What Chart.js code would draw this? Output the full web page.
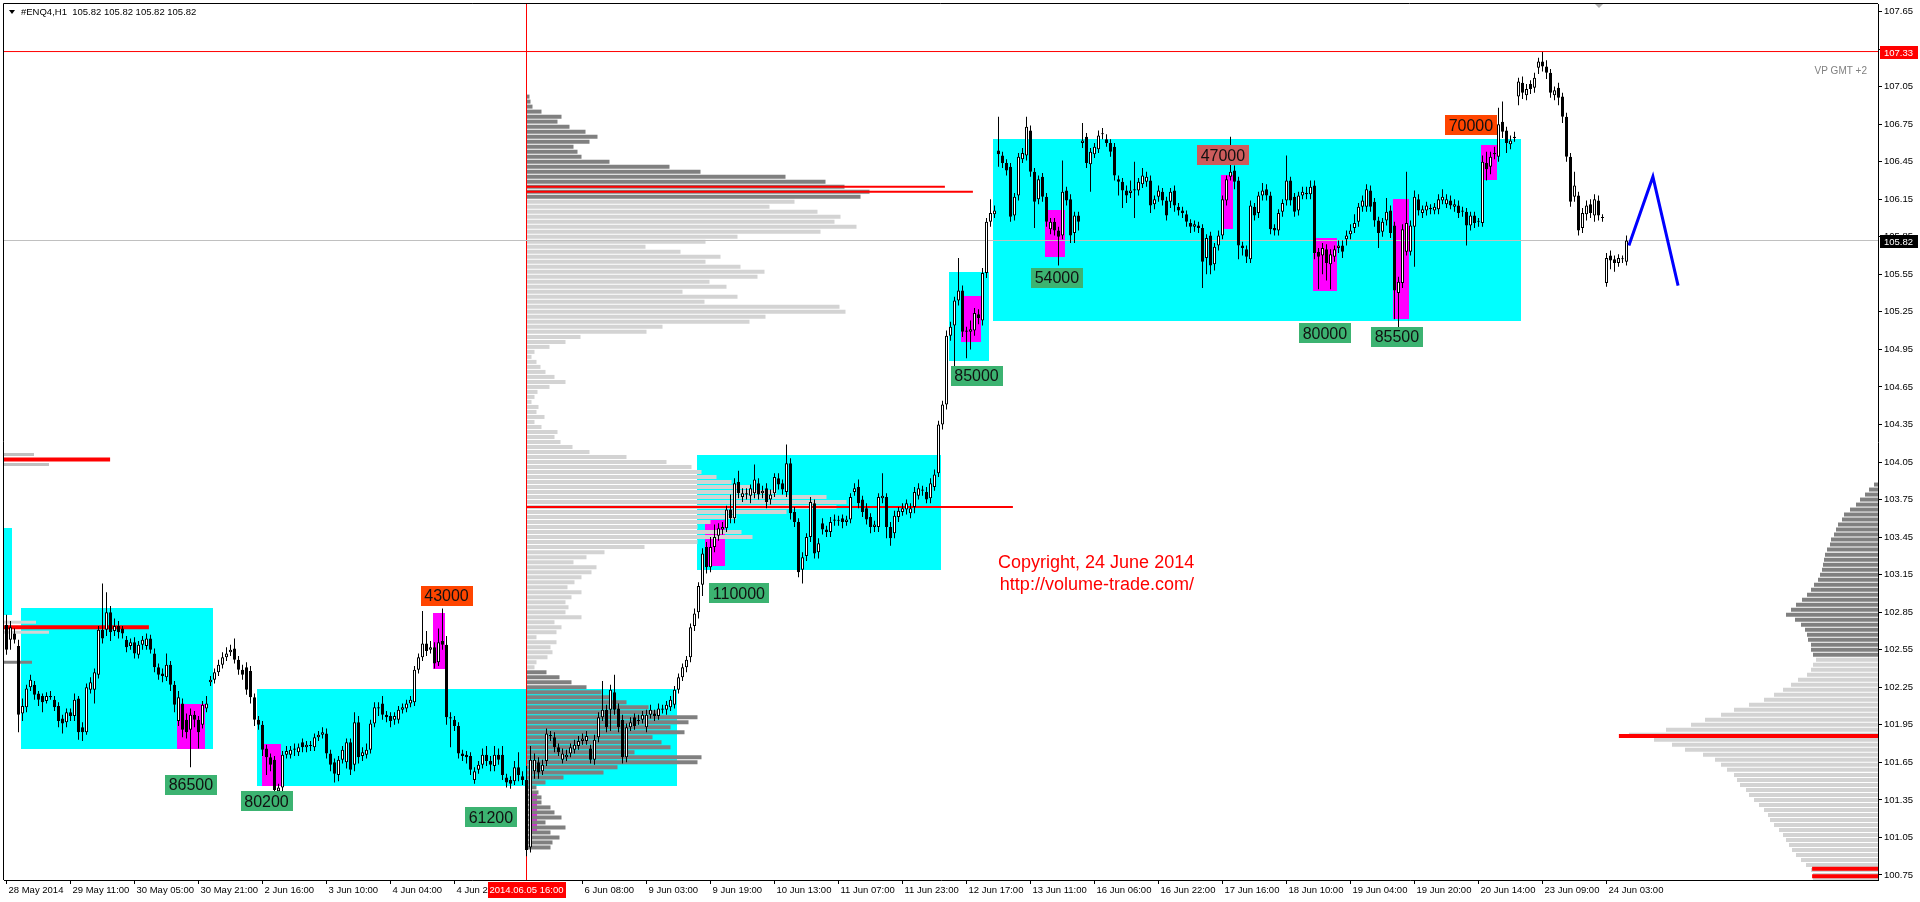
<!DOCTYPE html>
<html lang="en">
<head>
<meta charset="UTF-8" />
<title>#ENQ4,H1</title>
<script src="https://cdn.jsdelivr.net/npm/chart.js"></script>
<style>
  html, body { margin: 0; padding: 0; background: #fff; }
  canvas { display: block; }
</style>
</head>
<body>
<canvas id="chart" width="1920" height="902"></canvas>
<script>
// hourly OHLC, bar 0 = 28 May 2014
const opens = [
102.75,102.63,102.68,102.58,102.04,102.09,102.25,102.27,102.20,102.18,
102.14,102.18,102.15,102.10,102.00,101.97,102.05,102.02,102.16,101.93,
101.89,102.23,102.23,102.35,102.71,102.71,102.85,102.70,102.74,102.72,
102.63,102.58,102.61,102.51,102.59,102.58,102.64,102.52,102.41,102.36,
102.33,102.43,102.27,101.98,102.12,101.99,101.91,102.03,101.99,101.95,
102.08,102.29,102.31,102.37,102.43,102.49,102.53,102.56,102.47,102.39,
102.41,102.38,102.17,101.99,101.95,101.76,101.69,101.67,101.42,101.45,
101.71,101.71,101.75,101.73,101.81,101.77,101.78,101.77,101.85,101.87,
101.88,101.72,101.65,101.55,101.67,101.65,101.81,101.63,101.97,101.70,
101.71,101.75,101.96,102.08,102.12,102.03,102.02,101.99,101.99,102.07,
102.08,102.12,102.13,102.39,102.49,102.60,102.55,102.57,102.45,102.62,
102.59,102.01,101.99,101.94,101.72,101.71,101.70,101.51,101.59,101.63,
101.71,101.66,101.62,101.71,101.71,101.53,101.51,101.50,101.61,101.54,
101.51,100.97,101.58,101.65,101.58,101.66,101.87,101.85,101.77,101.67,
101.69,101.72,101.75,101.78,101.82,101.82,101.76,101.67,101.85,102.01,
102.07,102.07,102.21,102.08,101.99,101.69,101.93,102.01,101.98,101.99,
101.93,102.03,102.04,102.02,102.08,102.07,102.09,102.11,102.23,102.33,
102.41,102.49,102.74,102.85,103.07,103.37,103.21,103.37,103.46,103.51,
103.52,103.67,103.60,103.89,103.77,103.79,103.78,103.80,103.88,103.80,
103.84,103.75,103.80,103.92,103.88,103.81,104.04,103.65,103.57,103.19,
103.30,103.45,103.72,103.33,103.56,103.51,103.49,103.58,103.58,103.60,
103.57,103.59,103.81,103.85,103.75,103.68,103.61,103.53,103.53,103.76,
103.77,103.53,103.48,103.61,103.65,103.67,103.64,103.69,103.78,103.83,
103.81,103.76,103.85,103.96,104.35,104.51,105.06,105.14,105.34,105.42,
105.10,105.09,105.10,105.23,105.18,105.56,105.97,106.03,106.54,106.50,
106.44,106.41,106.02,106.18,106.47,106.50,106.70,106.37,106.15,106.33,
106.17,105.91,105.97,105.90,105.86,106.22,106.15,105.88,106.02,106.60,
106.65,106.43,106.51,106.55,106.67,106.63,106.60,106.57,106.31,106.29,
106.22,106.20,106.22,106.22,106.27,106.29,106.30,106.11,106.17,106.21,
106.14,106.13,106.22,106.09,106.06,106.03,105.96,105.93,105.94,105.92,
105.68,105.86,105.63,105.78,105.86,106.14,106.33,106.38,106.30,105.78,
105.75,105.67,106.09,106.04,106.18,106.23,106.18,105.92,105.90,106.05,
106.14,106.30,106.17,106.06,106.18,106.20,106.19,106.26,105.73,105.70,
105.75,105.63,105.69,105.76,105.78,105.83,105.87,105.92,105.97,106.09,
106.09,106.22,106.13,105.98,105.89,105.98,106.06,105.94,105.40,105.48,
105.73,105.73,105.93,106.15,106.04,106.06,106.08,106.06,106.07,106.14,
106.11,106.14,106.09,106.10,106.06,106.05,105.94,106.02,105.97,105.96,
106.44,106.41,106.51,106.49,106.77,106.70,106.59,106.64,106.97,107.08,
106.98,107.07,107.04,107.20,107.25,107.21,107.16,106.98,107.04,106.97,
106.81,106.49,106.17,106.18,105.92,106.03,106.11,106.02,106.14,106.00,
105.48,105.70,105.67,105.64,105.67,105.65];
const highs = [
102.83,102.78,102.72,102.63,102.16,102.27,102.35,102.30,102.22,102.20,
102.21,102.22,102.18,102.13,102.03,102.08,102.08,102.20,102.18,101.97,
102.28,102.33,102.40,102.74,103.08,103.01,102.90,102.80,102.78,102.74,
102.66,102.64,102.65,102.62,102.66,102.68,102.67,102.56,102.44,102.40,
102.52,102.46,102.30,102.22,102.16,102.04,102.08,102.06,102.02,102.14,
102.18,102.34,102.40,102.47,102.53,102.57,102.59,102.64,102.50,102.43,
102.45,102.42,102.20,102.02,101.98,101.79,101.72,101.70,101.48,101.74,
101.78,101.78,101.80,101.80,101.84,101.82,101.82,101.88,101.90,101.93,
101.92,101.75,101.68,101.70,101.78,101.84,101.84,102.05,102.02,101.77,
101.80,101.99,102.13,102.13,102.18,102.06,102.05,102.05,102.10,102.12,
102.15,102.18,102.42,102.52,102.86,102.70,102.62,102.61,102.72,102.88,
102.66,102.05,102.02,101.97,101.75,101.74,101.73,101.61,101.66,101.76,
101.78,101.70,101.78,101.76,101.78,101.56,101.54,101.66,101.73,101.58,
101.62,101.78,101.72,101.69,101.67,101.92,101.90,101.89,101.80,101.76,
101.75,101.80,101.83,101.86,101.88,101.90,101.79,101.87,102.05,102.30,
102.11,102.27,102.35,102.12,102.03,101.96,102.01,102.04,102.03,102.06,
102.07,102.11,102.07,102.12,102.11,102.14,102.18,102.26,102.36,102.44,
102.50,102.76,102.88,103.09,103.36,103.41,103.45,103.55,103.56,103.57,
103.70,103.79,103.92,103.98,103.84,103.84,103.87,104.03,103.92,103.86,
103.88,103.83,103.96,103.96,103.91,104.19,104.08,103.69,103.60,103.33,
103.48,103.77,103.75,103.44,103.60,103.54,103.61,103.63,103.62,103.63,
103.62,103.80,103.88,103.91,103.78,103.72,103.64,103.58,103.80,103.96,
103.80,103.57,103.66,103.69,103.72,103.75,103.72,103.85,103.88,103.86,
103.85,103.92,103.99,104.38,104.54,105.10,105.17,105.37,105.68,105.46,
105.13,105.18,105.28,105.27,105.60,106.00,106.15,106.10,106.81,106.53,
106.47,106.44,106.20,106.52,106.56,106.81,106.74,106.40,106.34,106.36,
106.20,106.00,106.00,105.93,106.46,106.25,106.19,106.05,106.05,106.76,
106.68,106.56,106.60,106.70,106.72,106.67,106.63,106.60,106.34,106.32,
106.26,106.30,106.45,106.32,106.40,106.37,106.34,106.18,106.26,106.24,
106.17,106.24,106.26,106.12,106.09,106.06,105.99,105.98,105.97,105.95,
105.87,105.89,105.80,105.90,106.18,106.34,106.65,106.42,106.33,105.81,
105.78,106.14,106.12,106.21,106.28,106.27,106.21,105.95,106.07,106.15,
106.50,106.33,106.20,106.21,106.25,106.25,106.30,106.30,105.76,105.80,
105.79,105.75,105.78,105.82,105.82,105.90,105.95,106.03,106.12,106.18,
106.27,106.26,106.16,106.01,106.00,106.16,106.10,105.97,105.53,105.95,
106.37,105.98,106.22,106.19,106.10,106.13,106.11,106.12,106.19,106.23,
106.19,106.18,106.15,106.14,106.09,106.08,106.05,106.05,106.00,106.50,
106.53,106.53,106.57,106.88,106.93,106.73,106.66,106.69,107.12,107.13,
107.07,107.10,107.16,107.28,107.33,107.26,107.19,107.05,107.08,107.00,
106.84,106.52,106.37,106.21,106.08,106.14,106.15,106.19,106.18,106.03,
105.72,105.74,105.70,105.71,105.70,105.86];
const lows = [
102.51,102.55,102.60,101.89,101.98,102.05,102.22,102.15,102.10,102.05,
102.12,102.15,102.06,101.93,101.88,101.93,101.98,101.98,101.83,101.82,
101.87,102.20,102.12,102.32,102.60,102.66,102.62,102.66,102.64,102.64,
102.53,102.55,102.48,102.48,102.55,102.55,102.52,102.37,102.31,102.29,
102.30,102.22,102.05,101.94,101.85,101.84,101.61,101.93,101.76,101.92,
102.05,102.26,102.28,102.34,102.40,102.46,102.50,102.44,102.35,102.31,
102.19,102.12,101.94,101.91,101.70,101.55,101.58,101.40,101.38,101.42,
101.68,101.68,101.70,101.70,101.73,101.73,101.74,101.74,101.82,101.84,
101.68,101.58,101.49,101.50,101.64,101.60,101.55,101.58,101.64,101.66,
101.68,101.72,101.93,102.02,101.99,101.97,101.93,101.95,101.96,102.04,
102.05,102.09,102.10,102.36,102.46,102.50,102.52,102.40,102.42,102.55,
101.95,101.77,101.90,101.68,101.66,101.64,101.55,101.48,101.56,101.60,
101.62,101.58,101.58,101.63,101.51,101.45,101.44,101.47,101.50,101.47,
100.90,100.93,101.52,101.52,101.55,101.62,101.82,101.73,101.70,101.64,
101.66,101.69,101.72,101.75,101.79,101.79,101.64,101.63,101.81,101.98,
101.89,101.90,102.03,101.89,101.64,101.65,101.90,101.91,101.95,101.96,
101.89,102.00,101.98,101.99,102.04,102.03,102.06,102.08,102.20,102.30,
102.37,102.45,102.70,102.80,102.98,103.16,103.17,103.33,103.42,103.47,
103.49,103.56,103.56,103.76,103.73,103.75,103.72,103.76,103.75,103.76,
103.68,103.71,103.77,103.83,103.79,103.77,103.59,103.53,103.13,103.08,
103.26,103.41,103.28,103.28,103.47,103.45,103.45,103.54,103.54,103.52,
103.54,103.56,103.78,103.68,103.61,103.55,103.48,103.49,103.49,103.72,
103.44,103.38,103.44,103.57,103.62,103.63,103.60,103.64,103.75,103.78,
103.72,103.72,103.82,103.93,104.31,104.47,105.02,104.81,105.30,105.05,
104.88,104.95,105.06,105.15,105.14,105.52,105.93,106.00,106.41,106.40,
106.34,105.97,105.98,106.14,106.44,106.46,106.33,105.92,106.11,106.13,
105.93,105.87,105.86,105.62,105.83,106.10,105.80,105.80,105.90,106.56,
106.40,106.21,106.48,106.52,106.63,106.57,106.49,106.30,106.18,106.08,
106.12,106.16,106.00,106.18,106.24,106.25,106.04,106.07,106.13,106.10,
105.98,106.08,106.05,106.02,106.00,105.93,105.88,105.89,105.88,105.44,
105.55,105.55,105.58,105.74,105.83,106.10,106.30,106.23,105.67,105.70,
105.64,105.64,105.98,106.00,106.14,106.14,105.87,105.86,105.86,106.01,
106.10,106.10,106.01,106.02,106.15,106.15,106.15,105.67,105.43,105.55,
105.50,105.43,105.65,105.72,105.68,105.78,105.83,105.88,105.93,106.05,
106.05,106.05,105.93,105.76,105.85,105.94,105.84,105.19,105.09,105.44,
105.70,105.70,105.61,106.02,106.00,106.02,106.03,106.03,106.03,106.11,
106.08,106.07,106.05,106.00,106.01,105.78,105.90,105.92,105.93,105.93,
106.30,106.35,106.47,106.45,106.64,106.52,106.55,106.61,106.90,106.95,
106.94,106.99,107.00,107.15,107.17,107.11,106.96,106.94,106.90,106.76,
106.45,106.09,106.13,105.86,105.88,105.98,106.00,105.97,105.98,105.97,
105.45,105.59,105.57,105.61,105.64,105.62];
const closes = [
102.55,102.73,102.63,102.03,102.10,102.24,102.31,102.19,102.15,102.13,
102.18,102.17,102.09,101.98,101.96,102.05,102.02,102.15,101.89,101.89,
102.25,102.29,102.37,102.71,102.64,102.85,102.69,102.74,102.69,102.68,
102.57,102.61,102.52,102.59,102.63,102.64,102.55,102.41,102.35,102.34,
102.43,102.27,102.11,102.17,101.91,101.89,102.03,101.99,101.89,102.11,
102.12,102.31,102.37,102.43,102.49,102.52,102.55,102.47,102.39,102.35,
102.23,102.17,101.99,101.95,101.75,101.69,101.63,101.43,101.45,101.71,
101.74,101.75,101.76,101.77,101.77,101.79,101.78,101.85,101.87,101.89,
101.72,101.63,101.56,101.67,101.75,101.81,101.59,101.97,101.69,101.73,
101.75,101.96,102.09,102.09,102.03,102.01,101.98,102.02,102.07,102.09,
102.12,102.15,102.39,102.49,102.60,102.54,102.57,102.44,102.61,102.59,
102.01,102.00,101.94,101.72,101.70,101.69,101.59,101.58,101.63,101.71,
101.66,101.63,101.71,101.67,101.55,101.49,101.48,101.61,101.55,101.51,
100.95,101.67,101.67,101.57,101.63,101.88,101.86,101.77,101.73,101.72,
101.71,101.77,101.79,101.82,101.84,101.86,101.67,101.83,102.01,102.07,
101.93,102.23,102.07,101.93,101.69,101.93,101.97,101.94,101.99,102.03,
102.03,102.07,102.02,102.08,102.07,102.11,102.15,102.23,102.33,102.41,
102.47,102.73,102.84,103.06,103.32,103.21,103.37,103.45,103.52,103.53,
103.67,103.60,103.88,103.80,103.80,103.80,103.84,103.91,103.79,103.82,
103.73,103.79,103.93,103.87,103.83,104.04,103.64,103.57,103.17,103.29,
103.45,103.73,103.32,103.40,103.51,103.49,103.57,103.59,103.58,103.57,
103.59,103.77,103.84,103.72,103.65,103.59,103.53,103.55,103.77,103.78,
103.53,103.44,103.62,103.66,103.68,103.72,103.68,103.81,103.84,103.82,
103.75,103.88,103.95,104.35,104.51,105.06,105.13,105.34,105.42,105.09,
105.09,105.11,105.24,105.20,105.56,105.97,106.04,106.06,106.51,106.44,
106.38,106.01,106.17,106.49,106.52,106.73,106.37,106.13,106.31,106.17,
105.97,105.97,105.90,105.85,106.21,106.14,105.86,106.02,105.97,106.62,
106.44,106.53,106.57,106.66,106.67,106.60,106.53,106.34,106.29,106.22,
106.18,106.22,106.23,106.29,106.34,106.33,106.10,106.15,106.22,106.14,
106.02,106.21,106.10,106.06,106.04,105.97,105.93,105.95,105.92,105.65,
105.84,105.62,105.77,105.86,106.15,106.31,106.37,106.29,105.78,105.76,
105.69,106.10,106.02,106.18,106.22,106.18,105.91,105.90,106.04,106.12,
106.30,106.14,106.05,106.18,106.21,106.19,106.25,105.72,105.69,105.76,
105.64,105.71,105.75,105.78,105.73,105.86,105.90,105.96,106.09,106.14,
106.23,106.09,105.98,105.88,105.97,106.05,105.88,105.42,105.49,105.91,
105.96,105.94,106.17,106.06,106.07,106.10,106.07,106.09,106.15,106.17,
106.15,106.10,106.11,106.04,106.05,105.94,106.02,105.96,105.97,106.45,
106.39,106.49,106.52,106.75,106.69,106.60,106.62,106.65,107.09,107.00,
107.03,107.03,107.12,107.25,107.21,107.16,107.00,107.02,106.96,106.81,
106.49,106.13,106.26,105.90,106.04,106.10,106.04,106.15,106.02,106.00,
105.68,105.66,105.64,105.68,105.67,105.82];

const timeTicks = [0,16,32,48,64,80,96,112,144,160,176,192,208,224,240,256,272,288,304,320,336,352,368,384,400];
const timeLabels = ['28 May 2014','29 May 11:00','30 May 05:00','30 May 21:00','2 Jun 16:00','3 Jun 10:00','4 Jun 04:00','4 Jun 20:00',
  '6 Jun 08:00','9 Jun 03:00','9 Jun 19:00','10 Jun 13:00','11 Jun 07:00','11 Jun 23:00','12 Jun 17:00','13 Jun 11:00',
  '16 Jun 06:00','16 Jun 22:00','17 Jun 16:00','18 Jun 10:00','19 Jun 04:00','19 Jun 20:00','20 Jun 14:00','23 Jun 09:00','24 Jun 03:00'];
const priceTicks = [100.75,101.05,101.35,101.65,101.95,102.25,102.55,102.85,103.15,103.45,103.75,104.05,
  104.35,104.65,104.95,105.25,105.55,105.85,106.15,106.45,106.75,107.05,107.35,107.65];

// volume profiles (row volume, top row first, rows 0.04 apart)
const vpStep = 0.04;
const vpMainTop = 106.97;
const vpMainVol = [
3,4,6,15,35,31,43,59,71,63, 47,51,55,83,143,174,259,299,318,343,
334,268,243,291,314,308,330,294,211,179, 119,154,194,179,214,238,231,183,200,156,
211,178,313,319,239,223,136,120,54,39, 23,8,5,10,14,19,28,39,23,11,
8,5,12,10,18,8,15,31,28,34, 46,63,100,140,165,175,190,205,224,250,
300,320,310,260,210,184,171,215,226,171, 118,78,60,47,70,65,55,48,41,55,
45,39,42,39,55,28,35,30,10,30, 24,26,21,10,8,20,33,45,60,75,
85,100,122,131,171,162,144,158,126,135, 144,108,175,171,91,77,37,19,10,12,
15,15,24,28,35,19,39,24,33,26,24];
const vpRightTop = 103.87;
const vpRightVol = [
4,9,13,18,22,28,34,36,40,42, 44,47,48,51,53,54,55,56,58,60,
64,67,71,76,82,87,92,83,77,73, 71,70,67,67,65,62,65,67,71,80,
87,95,104,114,129,144,157,173,187,212, 249,224,206,193,175,163,157,151,144,141,
138,132,129,124,119,114,110,108,104,99, 95,92,89,86,82,77,72,67,65,65];
const vpLeftPrices = [104.11,104.03,102.77,102.69,102.45];
const vpLeftVol = [30,45,32,45,28];
// point of control lines: [price, from bar, to bar]
const pocThin = [[106.25,130,234.6],[106.21,130,241.6],[103.69,130,251.6]];
const pocThick = [[104.07,-0.625,25.9],[102.73,-0.625,35.6],[101.86,403.1,467.875],[100.80,451.4,467.875],[100.74,451.4,467.875]];

// zones: [from bar, to bar, top price, bottom price]
const cyanZones = [[-0.625,1.375,103.52,102.83],[3.625,51.625,102.88,101.76],[62.625,167.625,102.24,101.46],
  [172.6,233.6,104.11,103.19],[235.6,245.6,105.57,104.86],[246.6,378.6,106.63,105.18]];
const magentaZones = [[42.6,49.6,102.12,101.76],[63.9,68.6,101.80,101.46],[106.6,109.6,102.84,102.40],
  [130.9,132.6,101.42,101.09],[174.6,179.6,103.59,103.22],[238.6,243.6,105.38,105.01],[259.6,264.6,106.06,105.69],
  [303.6,306.6,106.34,105.91],[326.6,332.6,105.84,105.42],[346.6,350.6,106.15,105.19],[368.6,372.6,106.58,106.30]];

// volume tags
const tagTexts = ['86500','80200','43000','61200','110000','85000','54000','47000','80000','85500','70000'];
const tagBars = [46.1,65.0,110.0,121.1,183.1,242.5,262.6,304.1,329.6,347.6,366.1];
const tagPrices = [101.47,101.34,102.98,101.21,103.00,104.74,105.52,106.50,105.08,105.05,106.74];
const tagKinds = ['buy','buy','sell','buy','buy','buy','buy','alert','buy','buy','sell'];

const forecastBars = [405.6,411.6,417.9];
const forecastPrices = [105.78,106.33,105.46];

const lastPrice = 105.82;
const highLine = 107.33;
const markerBar = 130;

const tagColors = { buy: '#3cb371', sell: '#ff4500', alert: '#cd5c5c' };
const FONT = '"Liberation Sans", Arial, sans-serif';
const pxPerBarUnit = 4;

function hbars(rows, color, thickness, order) {
  return {
    type: 'bar', indexAxis: 'y', order: order, grouped: false,
    barThickness: thickness, inflateAmount: 0, borderWidth: 0,
    data: rows, backgroundColor: color
  };
}

const mainRows = vpMainVol.map((v, i) => ({ y: vpMainTop - i * vpStep, x: [markerBar, markerBar + v / pxPerBarUnit] }));
const mainColors = vpMainVol.map((v, i) => (i <= 20 || i >= 115) ? '#808080' : '#d3d3d3');
const rightRows = vpRightVol.map((v, i) => ({ y: vpRightTop - i * vpStep, x: [467.875 - v / pxPerBarUnit, 467.875] }));
const rightColors = vpRightVol.map((v, i) => i <= 34 ? '#808080' : '#d3d3d3');
const leftRows = vpLeftVol.map((v, i) => ({ y: vpLeftPrices[i], x: [-0.625, -0.625 + v / pxPerBarUnit] }));
const leftColors = ['#c0c0c0', '#c0c0c0', '#d3d3d3', '#d3d3d3', '#808080'];

const zonesPlugin = {
  id: 'zones',
  beforeDatasetsDraw(chart) {
    const { ctx, chartArea: a, scales: { x, y } } = chart;
    ctx.save();
    ctx.beginPath();
    ctx.rect(a.left, a.top, a.width, a.height);
    ctx.clip();
    const fillZone = z => {
      const x0 = Math.round(x.getPixelForValue(z[0])), x1 = Math.round(x.getPixelForValue(z[1]));
      const y0 = Math.round(y.getPixelForValue(z[2])), y1 = Math.round(y.getPixelForValue(z[3]));
      ctx.fillRect(x0, y0, x1 - x0, y1 - y0);
    };
    ctx.fillStyle = '#00ffff';
    cyanZones.forEach(fillZone);
    ctx.fillStyle = '#ff00ff';
    magentaZones.forEach(fillZone);
    ctx.restore();
  }
};

const overlayPlugin = {
  id: 'overlay',
  afterDraw(chart) {
    const { ctx, chartArea: a, scales: { x, y } } = chart;
    ctx.save();

    // frame
    ctx.strokeStyle = '#000';
    ctx.lineWidth = 1;
    ctx.beginPath();
    ctx.moveTo(a.left - 0.5, a.bottom);
    ctx.lineTo(a.left - 0.5, a.top - 0.5);
    ctx.lineTo(a.right, a.top - 0.5);
    ctx.stroke();

    // volume tags
    ctx.font = '16px ' + FONT;
    ctx.textAlign = 'center';
    ctx.textBaseline = 'middle';
    tagTexts.forEach((t, i) => {
      const cx = x.getPixelForValue(tagBars[i]);
      const cy = y.getPixelForValue(tagPrices[i]);
      const w = Math.max(52, Math.round(ctx.measureText(t).width) + 8);
      ctx.fillStyle = tagColors[tagKinds[i]];
      ctx.fillRect(Math.round(cx - w / 2), Math.round(cy - 10), w, 20);
      ctx.fillStyle = '#111';
      ctx.fillText(t, cx, cy + 1);
    });

    // copyright note
    ctx.fillStyle = '#ff0000';
    ctx.font = '18px ' + FONT;
    ctx.fillText('Copyright, 24 June 2014', x.getPixelForValue(272.4), y.getPixelForValue(103.24));
    ctx.fillText('http://volume-trade.com/', x.getPixelForValue(272.6), y.getPixelForValue(103.07));

    // indicator caption
    ctx.fillStyle = '#808080';
    ctx.font = '10px ' + FONT;
    ctx.textAlign = 'right';
    ctx.fillText('VP GMT +2', a.right - 11, 71);

    // title
    ctx.fillStyle = '#000';
    ctx.beginPath();
    ctx.moveTo(9, 10); ctx.lineTo(15, 10); ctx.lineTo(12, 14); ctx.closePath(); ctx.fill();
    ctx.textAlign = 'left';
    ctx.font = '9.5px ' + FONT;
    ctx.fillText('#ENQ4,H1  105.82 105.82 105.82 105.82', 21, 12);

    // chart shift marker
    ctx.fillStyle = '#b0b0b0';
    ctx.beginPath();
    ctx.moveTo(1595, 4); ctx.lineTo(1603, 4); ctx.lineTo(1599, 8); ctx.closePath(); ctx.fill();

    // price tags on the axis
    const priceTag = (p, bg) => {
      const py = Math.round(y.getPixelForValue(p));
      ctx.fillStyle = bg;
      ctx.fillRect(a.right + 2, py - 6, 38, 13);
      ctx.fillStyle = '#fff';
      ctx.textAlign = 'left';
      ctx.fillText(p.toFixed(2), a.right + 6, py + 1);
    };
    priceTag(highLine, '#ff0000');
    priceTag(lastPrice, '#000000');

    // time tag on the axis
    const tx = x.getPixelForValue(markerBar);
    ctx.fillStyle = '#ff0000';
    ctx.fillRect(Math.round(tx - 39), a.bottom + 2, 78, 16);
    ctx.fillStyle = '#fff';
    ctx.textAlign = 'center';
    ctx.fillText('2014.06.05 16:00', tx, a.bottom + 10.5);

    ctx.restore();
  }
};

const axisFont = { family: FONT, size: 9.5 };

new Chart(document.getElementById('chart'), {
  type: 'bar',
  data: {
    datasets: [
      {
        type: 'line', order: -2, data: [{ x: -1, y: highLine }, { x: 470, y: highLine }],
        borderColor: '#ff0000', borderWidth: 1, pointRadius: 0
      },
      {
        type: 'line', order: -1, data: forecastBars.map((b, i) => ({ x: b, y: forecastPrices[i] })),
        borderColor: '#0000ff', borderWidth: 3, pointRadius: 0, tension: 0
      },
      {
        type: 'bar', order: 0, grouped: false, barThickness: 3, inflateAmount: 0, minBarLength: 1,
        data: closes.map((c, i) => ({ x: i, y: [Math.min(opens[i], c), Math.max(opens[i], c)] })),
        backgroundColor: closes.map((c, i) => c > opens[i] ? '#ffffff' : '#000000'),
        borderColor: '#000000', borderWidth: 1, borderSkipped: false
      },
      {
        type: 'bar', order: 1, grouped: false, barThickness: 1, inflateAmount: 0, minBarLength: 1,
        data: closes.map((c, i) => ({ x: i, y: [lows[i], highs[i]] })),
        backgroundColor: '#000000', borderWidth: 0
      },
      {
        type: 'line', order: 2, data: [{ x: -1, y: lastPrice }, { x: 470, y: lastPrice }],
        borderColor: '#c0c0c0', borderWidth: 1, pointRadius: 0
      },
      {
        type: 'line', order: 3, data: [{ x: markerBar, y: 100.6 }, { x: markerBar, y: 107.8 }],
        borderColor: '#ff0000', borderWidth: 1, pointRadius: 0
      },
      hbars(pocThin.map(r => ({ y: r[0], x: [r[1], r[2]] })), '#ff0000', 2, 4),
      hbars(pocThick.map(r => ({ y: r[0], x: [r[1], r[2]] })), '#ff0000', 4, 4),
      hbars(mainRows, mainColors, 4, 5),
      hbars(rightRows, rightColors, 4, 5),
      hbars(leftRows, leftColors, 3, 5)
    ]
  },
  options: {
    responsive: false,
    devicePixelRatio: 1,
    animation: false,
    events: [],
    layout: { padding: { left: 4, top: 4, right: 0, bottom: 0 }, autoPadding: false },
    plugins: { legend: { display: false }, tooltip: { enabled: false } },
    scales: {
      x: {
        type: 'linear', min: -0.625, max: 467.875, offset: false, beginAtZero: false,
        grid: { offset: false, drawOnChartArea: false, drawTicks: true, tickLength: 4, tickColor: '#000', color: '#000' },
        border: { display: true, color: '#000', width: 1 },
        ticks: {
          autoSkip: false, maxRotation: 0, minRotation: 0, align: 'start', labelOffset: 2, padding: 1,
          color: '#000', font: axisFont, callback: (v, i) => timeLabels[i]
        },
        afterBuildTicks: s => { s.ticks = timeTicks.map(v => ({ value: v })); },
        afterFit: s => { s.height = 22; s.paddingLeft = 0; s.paddingRight = 0; }
      },
      y: {
        type: 'linear', position: 'right', min: 100.71, max: 107.71, offset: false, beginAtZero: false,
        grid: { offset: false, drawOnChartArea: false, drawTicks: true, tickLength: 4, tickColor: '#000', color: '#000' },
        border: { display: true, color: '#000', width: 1 },
        ticks: { autoSkip: false, padding: 2, color: '#000', font: axisFont, callback: v => Number(v).toFixed(2) },
        afterBuildTicks: s => { s.ticks = priceTicks.map(v => ({ value: v })); },
        afterFit: s => { s.width = 42; s.paddingTop = 0; s.paddingBottom = 0; }
      }
    }
  },
  plugins: [zonesPlugin, overlayPlugin]
});
</script>
</body>
</html>
